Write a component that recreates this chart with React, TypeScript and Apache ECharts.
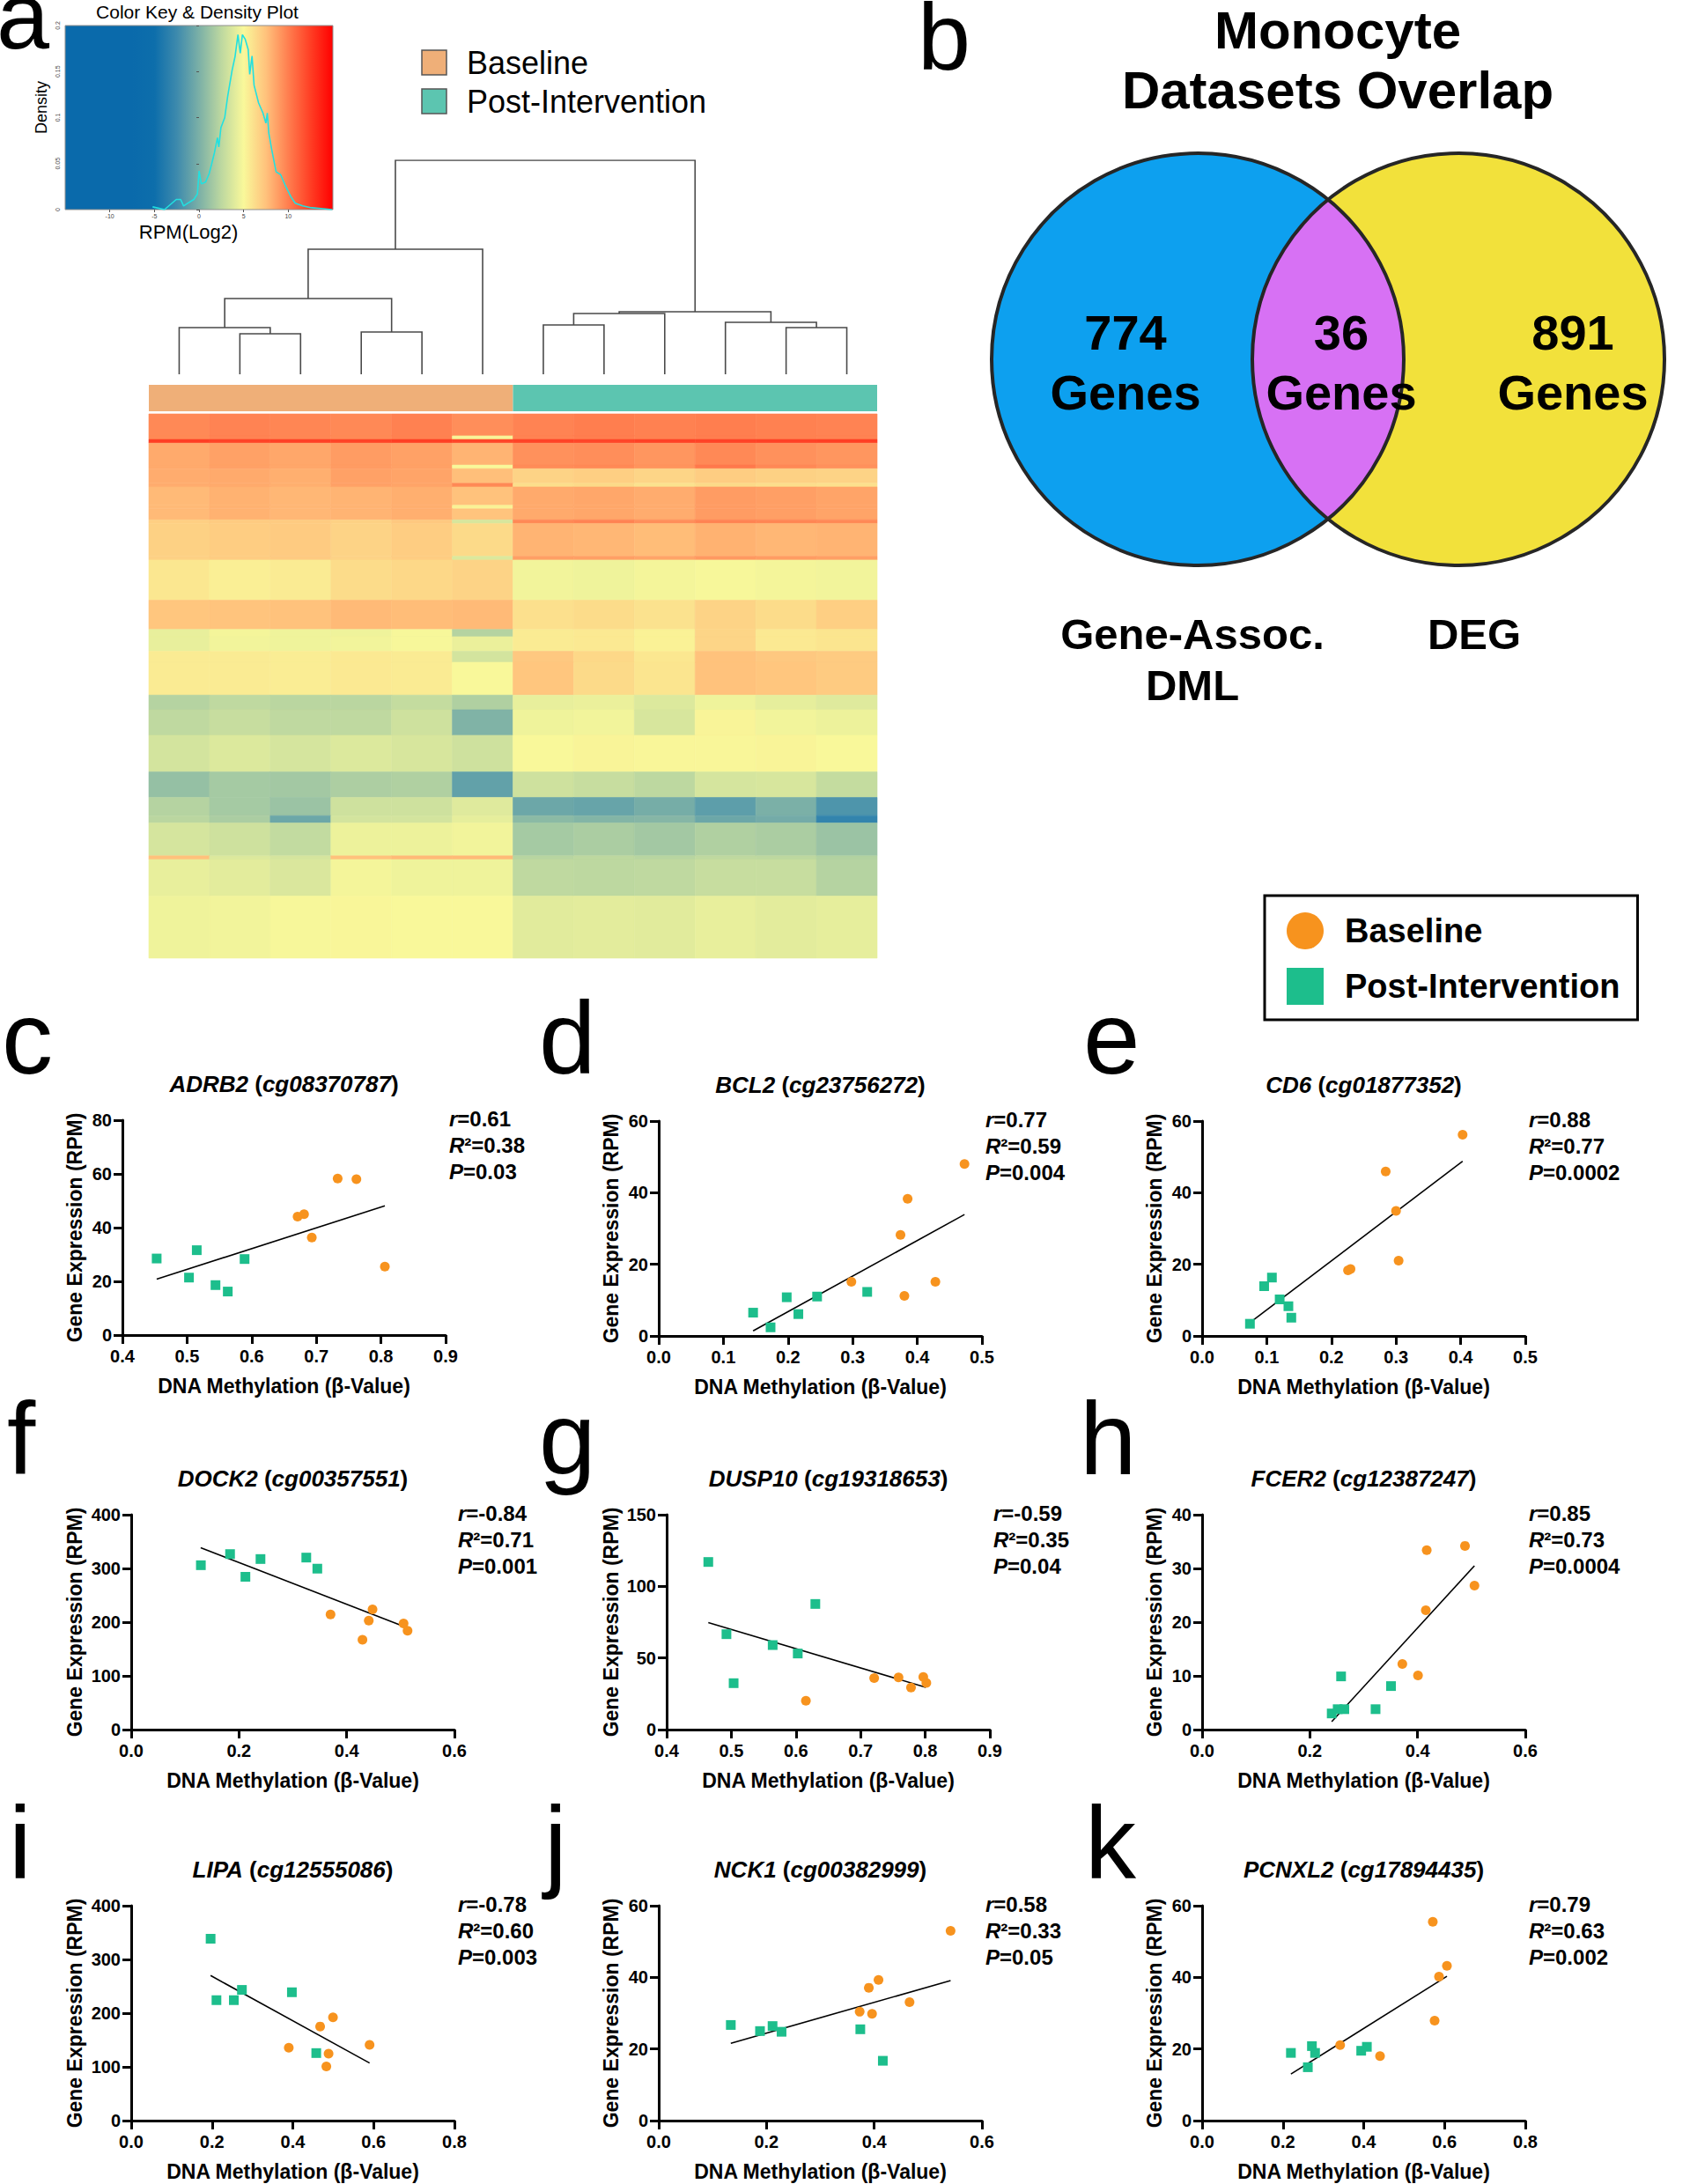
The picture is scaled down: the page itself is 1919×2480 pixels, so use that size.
import React, { useEffect, useRef } from "react";
import * as echarts from "echarts";

const FONT = "'Liberation Sans', Arial, Helvetica, sans-serif";
const ORANGE = "#F7931E";
const GREEN = "#1DBE8C";

// ---------------- Panel a: colour key & density ----------------
const densityX = [-5.2, -3.87, -2.55, -2.06, -1.73, -1.24, -0.58, -0.18, 0.01, 0.25, 0.74, 1.13, 1.4, 1.73, 2.06, 2.22, 2.45, 2.88, 3.21, 3.7, 4.03, 4.36, 4.62, 4.86, 5.18, 5.51, 5.68, 5.94, 6.17, 6.67, 7.16, 7.49, 7.65, 7.82, 8.15, 8.64, 9.14, 9.63, 10.29, 10.78, 11.6, 12.6, 13.9, 14.9];
const densityY = [0.003, 0, 0.011, 0.011, 0.004, 0.007, 0.011, 0.017, 0.042, 0.028, 0.03, 0.039, 0.049, 0.062, 0.078, 0.068, 0.089, 0.1, 0.123, 0.151, 0.166, 0.19, 0.17, 0.19, 0.185, 0.174, 0.147, 0.167, 0.135, 0.116, 0.105, 0.094, 0.105, 0.083, 0.065, 0.041, 0.038, 0.027, 0.014, 0.007, 0.004, 0.002, 0.001, 0];

// colour scale (evenly spaced from -15 to 15)
const heatColors = ["#0A6AAB", "#0A6AAB", "#0A6AAB", "#0A6AAB", "#0D6EAB", "#3D8AAD", "#7BB0A7", "#BDD8A0", "#F9F89A", "#FFC27C", "#FF7E4F", "#FF3E24", "#FF0000"];

// dendrogram (hclust style: negative = leaf, positive = merge)
const dendroMerges = [
  [-2, -3, 46], [-1, 1, 53], [-4, -5, 48], [2, 3, 86], [4, -6, 142],
  [-7, -8, 56], [6, -9, 69], [-11, -12, 53], [-10, 8, 59], [7, 9, 71], [5, 10, 243],
];

// column groups
const groupNames = ["Baseline", "Post-Intervention"];
const groupColors = ["#EFAF78", "#5CC5B0"];
const groupSpans = [[0, 6, 0], [6, 12, 1]];

// heatmap row bands: rows, 6 baseline values, 6 post values (log2 RPM)
const bandRows = [6, 1, 1, 6, 1, 4, 1, 5, 1, 3, 1, 9, 1, 11, 8, 2, 4, 3, 9, 4, 7, 10, 7, 5, 2, 9, 1, 10, 17];
const bandBaseline = [
  [9.6, 9.8, 9.7, 9.6, 9.9, 9.4], [9.6, 9.8, 9.7, 9.6, 9.9, 5.2], [12.5, 12.3, 12.4, 12.3, 12.5, 12.2],
  [8.4, 8.7, 8.5, 8.9, 8.7, 8.0], [8.4, 8.7, 8.5, 8.9, 8.7, 5.0], [8.3, 8.4, 8.2, 8.7, 8.6, 7.6],
  [8.3, 8.4, 8.2, 8.7, 8.6, 9.6], [7.8, 8.1, 7.9, 8.0, 8.2, 7.5], [7.8, 8.1, 7.9, 8.0, 8.2, 5.3],
  [7.8, 8.1, 7.9, 8.0, 8.2, 7.4], [6.9, 7.1, 7.1, 6.8, 7.2, 3.6], [6.8, 7.0, 7.1, 6.7, 7.0, 6.4],
  [6.8, 7.0, 7.1, 6.7, 7.0, 3.8], [5.8, 5.4, 5.6, 6.3, 6.5, 6.7], [7.3, 7.4, 7.5, 7.8, 7.7, 7.8],
  [4.3, 4.8, 4.6, 4.6, 4.9, 2.2], [4.3, 4.7, 4.6, 4.7, 4.9, 4.4], [5.6, 5.6, 5.5, 5.7, 5.6, 3.4],
  [5.6, 5.6, 5.5, 5.7, 5.6, 5.0], [2.2, 2.6, 2.4, 2.4, 2.8, 2.0], [2.6, 2.9, 2.6, 2.6, 3.2, 0.2],
  [3.4, 3.8, 3.5, 3.8, 3.6, 3.2], [1.0, 1.6, 1.5, 1.9, 2.0, -1.0], [2.2, 1.6, 1.2, 3.2, 3.2, 3.9],
  [2.4, 1.8, -0.6, 3.4, 3.4, 4.2], [3.5, 3.2, 2.7, 4.5, 4.5, 4.7], [7.5, 3.8, 3.5, 7.5, 7.8, 7.8],
  [4.3, 4.1, 3.7, 4.8, 4.6, 4.6], [4.6, 4.7, 4.9, 5.1, 5.0, 5.0],
];
const bandPost = [
  [9.8, 10, 9.9, 10, 9.9, 9.8], [9.8, 10, 9.9, 10, 9.9, 9.8], [12.3, 12.2, 12.4, 12.3, 12.4, 12.5],
  [9.3, 9.4, 9.1, 9.6, 9.3, 9.1], [9.5, 9.6, 9.2, 10.2, 9.6, 9.3], [6.7, 6.9, 6.6, 7.0, 6.8, 6.7],
  [6.2, 6.4, 6.0, 6.4, 6.2, 6.1], [8.4, 8.5, 8.3, 8.9, 8.8, 8.6], [8.4, 8.5, 8.3, 8.9, 8.8, 8.6],
  [8.4, 8.5, 8.3, 8.9, 8.8, 8.6], [9.6, 9.8, 9.4, 9.8, 9.7, 9.6], [8.0, 7.9, 7.7, 8.1, 7.9, 8.0],
  [8.8, 8.8, 8.6, 9.0, 8.9, 8.8], [4.7, 4.6, 4.8, 4.9, 4.8, 4.7], [6.1, 6.3, 6.0, 6.7, 6.3, 6.9],
  [5.6, 5.7, 5.3, 6.6, 5.7, 5.9], [5.6, 5.7, 5.3, 6.6, 5.7, 5.9], [7.2, 6.5, 5.8, 7.5, 7.2, 7.1],
  [7.3, 6.4, 5.9, 7.5, 7.3, 7.1], [4.3, 4.4, 3.8, 4.6, 4.2, 3.9], [4.6, 4.7, 3.6, 5.2, 4.7, 4.5],
  [5.0, 5.2, 5.1, 5.1, 5.2, 5.0], [3.2, 2.9, 2.5, 3.5, 3.6, 2.8], [-0.6, -0.8, -0.2, -1.2, 0.0, -1.8],
  [0.6, 0.3, 0.4, -0.6, -0.3, -3.0], [1.6, 1.8, 1.5, 2.0, 1.8, 1.2], [2.3, 2.5, 2.3, 2.6, 2.5, 2.1],
  [2.6, 2.5, 2.6, 2.9, 2.9, 2.2], [4.0, 4.1, 4.0, 4.3, 4.1, 4.2],
];

// ---------------- Panel b: Venn ----------------
const vennTitle = ["Monocyte", "Datasets Overlap"];
const vennCounts = ["774", "36", "891"];
const vennSetNames = ["Gene-Assoc.\nDML", "DEG"];

// ---------------- Panels c–k: scatter ----------------
const adrb2Baseline = [[0.671, 44.1], [0.681, 45.0], [0.693, 36.3], [0.733, 58.3], [0.762, 58.0], [0.806, 25.5]];
const adrb2Post = [[0.453, 28.5], [0.515, 31.6], [0.503, 21.4], [0.544, 18.6], [0.563, 16.2], [0.589, 28.3]];
const adrb2Fit = [[0.453, 20.8], [0.806, 48.1]];

const bcl2Baseline = [[0.298, 15.1], [0.374, 28.2], [0.385, 38.3], [0.38, 11.2], [0.428, 15.1], [0.473, 48.0]];
const bcl2Post = [[0.146, 6.5], [0.173, 2.4], [0.198, 10.8], [0.216, 6.1], [0.245, 11.0], [0.3225, 12.3]];
const bcl2Fit = [[0.146, 1.4], [0.473, 33.9]];

const cd6Baseline = [[0.2257, 18.3], [0.2296, 18.7], [0.284, 45.9], [0.3, 34.9], [0.304, 21.0], [0.403, 56.2]];
const cd6Post = [[0.074, 3.4], [0.096, 13.9], [0.108, 16.3], [0.12, 10.2], [0.1335, 8.3], [0.138, 5.1]];
const cd6Fit = [[0.078, 4.25], [0.403, 48.8]];

const dock2Baseline = [[0.37, 214.4], [0.4293, 167.2], [0.441, 203], [0.448, 223.6], [0.5056, 197.6], [0.513, 184]];
const dock2Post = [[0.1293, 306], [0.1835, 326.7], [0.212, 284.4], [0.24, 317.5], [0.325, 320.2], [0.3455, 299.6]];
const dock2Fit = [[0.129, 338.7], [0.5056, 192.1]];

const dusp10Baseline = [[0.6154, 20.2], [0.721, 36.0], [0.7587, 36.4], [0.778, 29.3], [0.797, 36.8], [0.8017, 32.6]];
const dusp10Post = [[0.4644, 117], [0.4925, 66.6], [0.5036, 32.4], [0.564, 59.0], [0.6028, 53.1], [0.63, 87.7]];
const dusp10Fit = [[0.4644, 74.7], [0.8008, 29.5]];

const fcer2Baseline = [[0.3717, 12.2], [0.4008, 10.1], [0.4153, 22.2], [0.417, 33.4], [0.488, 34.2], [0.5056, 26.8]];
const fcer2Post = [[0.2406, 3.0], [0.2517, 3.8], [0.258, 9.9], [0.264, 3.8], [0.322, 3.8], [0.3507, 8.1]];
const fcer2Fit = [[0.2406, 1.47], [0.5056, 30.5]];

const lipaBaseline = [[0.39, 135.5], [0.4676, 175.2], [0.483, 100.7], [0.4885, 124.6], [0.4994, 192.1], [0.59, 141]];
const lipaPost = [[0.1965, 338.5], [0.211, 224.2], [0.254, 224.2], [0.274, 243.3], [0.3977, 238.9], [0.458, 125.7]];
const lipaFit = [[0.1965, 270], [0.59, 107.2]];

const nck1Baseline = [[0.373, 30.4], [0.39, 37.1], [0.396, 29.8], [0.408, 39.3], [0.4656, 33.1], [0.5418, 53.0]];
const nck1Post = [[0.1338, 26.7], [0.188, 25.0], [0.2113, 26.4], [0.228, 24.8], [0.3742, 25.5], [0.416, 16.7]];
const nck1Fit = [[0.1338, 21.6], [0.5418, 39.1]];

const pcnxl2Baseline = [[0.3417, 21.1], [0.4404, 18.0], [0.571, 55.5], [0.5755, 27.9], [0.5864, 40.2], [0.606, 43.2]];
const pcnxl2Post = [[0.2198, 18.9], [0.2617, 14.9], [0.2718, 20.8], [0.2796, 18.9], [0.3938, 19.5], [0.4078, 20.6]];
const pcnxl2Fit = [[0.2198, 13.0], [0.606, 40.3]];

const panelLetters = ["c", "d", "e", "f", "g", "h", "i", "j", "k"];
const geneNames = ["ADRB2", "BCL2", "CD6", "DOCK2", "DUSP10", "FCER2", "LIPA", "NCK1", "PCNXL2"];
const probeIds = ["cg08370787", "cg23756272", "cg01877352", "cg00357551", "cg19318653", "cg12387247", "cg12555086", "cg00382999", "cg17894435"];
const statR = ["0.61", "0.77", "0.88", "-0.84", "-0.59", "0.85", "-0.78", "0.58", "0.79"];
const statR2 = ["0.38", "0.59", "0.77", "0.71", "0.35", "0.73", "0.60", "0.33", "0.63"];
const statP = ["0.03", "0.004", "0.0002", "0.001", "0.04", "0.0004", "0.003", "0.05", "0.002"];
const xRanges = [[0.4, 0.9, 0.1], [0, 0.5, 0.1], [0, 0.5, 0.1], [0, 0.6, 0.2], [0.4, 0.9, 0.1], [0, 0.6, 0.2], [0, 0.8, 0.2], [0, 0.6, 0.2], [0, 0.8, 0.2]];
const yRanges = [[0, 80, 20], [0, 60, 20], [0, 60, 20], [0, 400, 100], [0, 150, 50], [0, 40, 10], [0, 400, 100], [0, 60, 20], [0, 60, 20]];
const baselineSets = [adrb2Baseline, bcl2Baseline, cd6Baseline, dock2Baseline, dusp10Baseline, fcer2Baseline, lipaBaseline, nck1Baseline, pcnxl2Baseline];
const postSets = [adrb2Post, bcl2Post, cd6Post, dock2Post, dusp10Post, fcer2Post, lipaPost, nck1Post, pcnxl2Post];
const fitSets = [adrb2Fit, bcl2Fit, cd6Fit, dock2Fit, dusp10Fit, fcer2Fit, lipaFit, nck1Fit, pcnxl2Fit];

// ---------------- layout (positions only) ----------------
const PANEL_LAYOUT = [
  { left: 139, top: 1272, yGap: 43, lx: 2, ly: 1219 },
  { left: 748, top: 1273, yGap: 43, lx: 612, ly: 1219 },
  { left: 1365, top: 1273, yGap: 43, lx: 1230, ly: 1219 },
  { left: 149, top: 1720, yGap: 53, lx: 8, ly: 1674 },
  { left: 757, top: 1720, yGap: 52, lx: 612, ly: 1674 },
  { left: 1365, top: 1720, yGap: 43, lx: 1226, ly: 1674 },
  { left: 149, top: 2164, yGap: 53, lx: 10, ly: 2133 },
  { left: 748, top: 2164, yGap: 43, lx: 618, ly: 2133 },
  { left: 1365, top: 2164, yGap: 43, lx: 1232, ly: 2133 },
];
const PW = 367;
const PH = 244;
const LETTER = 116;

function txt(x: number, y: number, text: string, size: number, opts: any = {}) {
  return {
    type: "text",
    x,
    y,
    silent: true,
    style: {
      text,
      fill: opts.fill || "#000",
      fontSize: size,
      fontWeight: opts.weight || "normal",
      fontStyle: opts.style || "normal",
      fontFamily: FONT,
      align: opts.align || "center",
      verticalAlign: opts.valign || "middle",
      lineHeight: opts.lineHeight,
      rich: opts.rich,
    },
  };
}

function buildOption() {
  const grid: any[] = [];
  const xAxis: any[] = [];
  const yAxis: any[] = [];
  const series: any[] = [];
  const els: any[] = [];
  const hiddenAxis = { axisLine: { show: false }, axisTick: { show: false }, axisLabel: { show: false }, splitLine: { show: false } };

  // ---- 0: density / colour key ----
  grid.push({
    left: 74, top: 29, width: 304, height: 209, show: true,
    backgroundColor: {
      type: "linear", x: 0, y: 0, x2: 1, y2: 0,
      colorStops: heatColors.map((c, i) => ({ offset: i / (heatColors.length - 1), color: c })),
    },
    borderColor: "#8f8f8f", borderWidth: 1,
  });
  xAxis.push({
    gridIndex: 0, type: "value", min: -15, max: 15, interval: 5,
    axisLine: { show: false }, splitLine: { show: false },
    axisTick: { show: true, length: 3, lineStyle: { color: "#555", width: 1 } },
    axisLabel: { fontSize: 7, margin: 4, color: "#444", showMinLabel: false, showMaxLabel: false, fontFamily: FONT },
  });
  yAxis.push({
    gridIndex: 0, type: "value", min: 0, max: 0.2, interval: 0.05,
    axisLine: { show: false }, splitLine: { show: false },
    axisTick: { show: true, length: 3, lineStyle: { color: "#555", width: 1 } },
    axisLabel: { fontSize: 7, margin: 5, rotate: 90, color: "#444", fontFamily: FONT, formatter: (v: number) => (v === 0 ? "0" : String(+v.toFixed(2))) },
  });
  series.push({
    type: "line", xAxisIndex: 0, yAxisIndex: 0, showSymbol: false, symbol: "none", silent: true,
    data: densityX.map((x, i) => [x, densityY[i]]),
    lineStyle: { color: "#22E0E0", width: 1.6 },
  });

  // ---- 1: dendrogram ----
  grid.push({ left: 169, top: 182, width: 827, height: 243 });
  xAxis.push({ gridIndex: 1, type: "value", min: 0, max: 12, ...hiddenAxis });
  yAxis.push({ gridIndex: 1, type: "value", min: 0, max: 243, ...hiddenAxis });
  const mPos: number[] = [];
  const mH: number[] = [];
  const node = (id: number) => (id < 0 ? [(-id) - 0.5, 0] : [mPos[id - 1], mH[id - 1]]);
  const dLines: any[] = [];
  dendroMerges.forEach((m) => {
    const a = node(m[0]);
    const b = node(m[1]);
    const h = m[2];
    dLines.push({ coords: [[a[0], a[1]], [a[0], h], [b[0], h], [b[0], b[1]]] });
    mPos.push((a[0] + b[0]) / 2);
    mH.push(h);
  });
  series.push({
    type: "lines", coordinateSystem: "cartesian2d", xAxisIndex: 1, yAxisIndex: 1, polyline: true, silent: true,
    data: dLines, lineStyle: { color: "#4a4a4a", width: 1.6, opacity: 1 },
  });

  // ---- 2: colour side bar ----
  grid.push({ left: 169, top: 437, width: 827, height: 30 });
  xAxis.push({ gridIndex: 2, type: "value", min: 0, max: 12, ...hiddenAxis });
  yAxis.push({ gridIndex: 2, type: "value", min: 0, max: 1, ...hiddenAxis });
  series.push({
    type: "custom", xAxisIndex: 2, yAxisIndex: 2, silent: true, data: groupSpans,
    encode: { x: [0, 1] },
    renderItem: (params: any, api: any) => {
      const a = api.coord([api.value(0), 1]);
      const b = api.coord([api.value(1), 0]);
      const c = groupColors[api.value(2)];
      return { type: "rect", shape: { x: a[0], y: a[1], width: b[0] - a[0], height: b[1] - a[1] }, style: { fill: c } };
    },
  });

  // ---- 3: heatmap ----
  grid.push({ left: 169, top: 470, width: 827, height: 618 });
  const totalRows = bandRows.reduce((s, v) => s + v, 0);
  xAxis.push({ gridIndex: 3, type: "value", min: 0, max: 12, ...hiddenAxis });
  yAxis.push({ gridIndex: 3, type: "value", min: 0, max: totalRows, inverse: true, ...hiddenAxis });
  const heatData: number[][] = [];
  let r0 = 0;
  bandRows.forEach((n, bi) => {
    const vals = bandBaseline[bi].concat(bandPost[bi]);
    vals.forEach((v, ci) => heatData.push([ci, r0, r0 + n, v]));
    r0 += n;
  });
  series.push({
    type: "custom", xAxisIndex: 3, yAxisIndex: 3, silent: true, data: heatData,
    encode: { x: 0, y: [1, 2] },
    renderItem: (params: any, api: any) => {
      const c = api.value(0);
      const a = api.coord([c, api.value(1)]);
      const b = api.coord([c + 1, api.value(2)]);
      const col = api.visual("color");
      return {
        type: "rect",
        shape: { x: a[0], y: Math.min(a[1], b[1]), width: b[0] - a[0], height: Math.abs(b[1] - a[1]) },
        style: { fill: col, stroke: col, lineWidth: 0.6 },
      };
    },
  });

  // ---- scatter panels ----
  PANEL_LAYOUT.forEach((L, i) => {
    const gi = grid.length;
    grid.push({ left: L.left, top: L.top, width: PW, height: PH });
    const xr = xRanges[i];
    const yr = yRanges[i];
    xAxis.push({
      gridIndex: gi, type: "value", min: xr[0], max: xr[1], interval: xr[2],
      name: "DNA Methylation (\u03B2-Value)", nameLocation: "middle", nameGap: 46,
      nameTextStyle: { fontSize: 23, fontWeight: "bold", fontFamily: FONT, color: "#000" },
      axisLine: { show: true, onZero: false, lineStyle: { color: "#000", width: 3 } },
      axisTick: { show: true, length: 10, lineStyle: { color: "#000", width: 3 } },
      axisLabel: { fontSize: 20, fontWeight: "bold", fontFamily: FONT, color: "#000", margin: 14, showMinLabel: true, showMaxLabel: true, formatter: (v: number) => v.toFixed(1) },
      splitLine: { show: false },
    });
    yAxis.push({
      gridIndex: gi, type: "value", min: yr[0], max: yr[1], interval: yr[2],
      name: "Gene Expression (RPM)", nameLocation: "middle", nameGap: L.yGap,
      nameTextStyle: { fontSize: 23, fontWeight: "bold", fontFamily: FONT, color: "#000" },
      axisLine: { show: true, onZero: false, lineStyle: { color: "#000", width: 3 } },
      axisTick: { show: true, length: 10, lineStyle: { color: "#000", width: 3 } },
      axisLabel: { fontSize: 20, fontWeight: "bold", fontFamily: FONT, color: "#000", margin: 12, showMinLabel: true, showMaxLabel: true, formatter: (v: number) => String(Math.round(v)) },
      splitLine: { show: false },
    });
    series.push({
      type: "line", xAxisIndex: gi, yAxisIndex: gi, data: fitSets[i], symbol: "none", silent: true, z: 2,
      lineStyle: { color: "#000", width: 1.6 },
    });
    series.push({
      name: "Post-Intervention", type: "scatter", xAxisIndex: gi, yAxisIndex: gi, data: postSets[i],
      symbol: "rect", symbolSize: 11, itemStyle: { color: GREEN, opacity: 1 }, z: 3,
    });
    series.push({
      name: "Baseline", type: "scatter", xAxisIndex: gi, yAxisIndex: gi, data: baselineSets[i],
      symbol: "circle", symbolSize: 11, itemStyle: { color: ORANGE, opacity: 1 }, z: 3,
    });

    // title
    els.push({
      type: "text", x: L.left + PW / 2, y: L.top - 41, silent: true,
      style: {
        text: `{i|${geneNames[i]}}{n| (}{i|${probeIds[i]}}{n|)}`,
        align: "center", verticalAlign: "middle",
        rich: {
          i: { fontSize: 26, fontWeight: "bold", fontStyle: "italic", fontFamily: FONT, fill: "#000", color: "#000" },
          n: { fontSize: 26, fontWeight: "bold", fontFamily: FONT, fill: "#000", color: "#000" },
        },
      },
    });
    // stats
    const statRich = {
      i: { fontSize: 24, fontWeight: "bold", fontStyle: "italic", fontFamily: FONT, fill: "#000", color: "#000", lineHeight: 30 },
      b: { fontSize: 24, fontWeight: "bold", fontFamily: FONT, fill: "#000", color: "#000", lineHeight: 30 },
    };
    els.push({
      type: "text", x: L.left + PW + 4, y: L.top - 17, silent: true,
      style: {
        text: `{i|r}{b|=${statR[i]}}\n{i|R}{b|\u00B2=${statR2[i]}}\n{i|P}{b|=${statP[i]}}`,
        align: "left", verticalAlign: "top", lineHeight: 30, rich: statRich,
      },
    });
    // panel letter
    els.push(txt(L.lx, L.ly - 0.3465 * LETTER, panelLetters[i], LETTER, { align: "left" }));
  });

  // ---- panel a texts ----
  els.push(txt(-4, 55 - 0.3465 * 108, "a", 108, { align: "left" }));
  els.push(txt(224, 13, "Color Key & Density Plot", 21));
  els.push({ ...txt(47, 122, "Density", 18), rotation: Math.PI / 2 });
  els.push(txt(214, 263, "RPM(Log2)", 22));
  groupNames.forEach((g, k) => {
    els.push({
      type: "rect", silent: true,
      shape: { x: 479, y: 57 + k * 44, width: 28, height: 28 },
      style: { fill: groupColors[k], stroke: "#555", lineWidth: 1.5 },
    });
    els.push(txt(530, 71 + k * 44, g, 36, { align: "left" }));
  });

  // ---- panel b: Venn ----
  const C1 = [1360, 408];
  const C2 = [1656, 408];
  const R = 234;
  const midX = (C1[0] + C2[0]) / 2;
  const half = Math.sqrt(R * R - Math.pow((C2[0] - C1[0]) / 2, 2));
  const top = C1[1] - half;
  const bot = C1[1] + half;
  const lensD = `M ${midX} ${top} A ${R} ${R} 0 0 1 ${midX} ${bot} A ${R} ${R} 0 0 1 ${midX} ${top} Z`;
  echarts.graphic.registerShape("vennLens", echarts.graphic.extendPath(lensD, {}) as any);
  els.push({ type: "circle", silent: true, shape: { cx: C1[0], cy: C1[1], r: R }, style: { fill: "#0DA0EF" } });
  els.push({ type: "circle", silent: true, shape: { cx: C2[0], cy: C2[1], r: R }, style: { fill: "#F2E13B" } });
  els.push({ type: "vennLens", silent: true, x: 0, y: 0, style: { fill: "#D771F4" } });
  els.push({ type: "circle", silent: true, shape: { cx: C1[0], cy: C1[1], r: R }, style: { fill: "none", stroke: "#262626", lineWidth: 4 } });
  els.push({ type: "circle", silent: true, shape: { cx: C2[0], cy: C2[1], r: R }, style: { fill: "none", stroke: "#262626", lineWidth: 4 } });
  els.push(txt(1042, 79 - 0.3465 * 108, "b", 108, { align: "left" }));
  els.push(txt(1519, 34, vennTitle[0], 60, { weight: "bold" }));
  els.push(txt(1519, 102, vennTitle[1], 60, { weight: "bold" }));
  const cx = [1278, 1523, 1786];
  vennCounts.forEach((c, k) => {
    els.push(txt(cx[k], 377, c, 56, { weight: "bold" }));
    els.push(txt(cx[k], 445, "Genes", 56, { weight: "bold" }));
  });
  els.push(txt(1354, 749, vennSetNames[0], 49, { weight: "bold", lineHeight: 58 }));
  els.push(txt(1674, 720, vennSetNames[1], 49, { weight: "bold" }));

  return {
    animation: false,
    backgroundColor: "#ffffff",
    textStyle: { fontFamily: FONT },
    grid,
    xAxis,
    yAxis,
    series,
    visualMap: [
      { type: "continuous", seriesIndex: 3, dimension: 3, min: -15, max: 15, show: false, inRange: { color: heatColors } },
    ],
    legend: {
      show: true, orient: "vertical", left: 1436, top: 1017,
      itemWidth: 42, itemHeight: 42, itemGap: 21,
      padding: [19, 20, 17, 25],
      borderColor: "#000", borderWidth: 3,
      selectedMode: false,
      textStyle: { fontSize: 38, fontWeight: "bold", fontFamily: FONT, color: "#000", padding: [0, 0, 0, 19] },
      data: [
        { name: "Baseline", icon: "circle" },
        { name: "Post-Intervention", icon: "rect" },
      ],
    },
    graphic: { elements: els },
  };
}

export default function App() {
  const ref = useRef<HTMLDivElement>(null);
  useEffect(() => {
    if (!ref.current) return;
    const chart = echarts.init(ref.current, undefined, { renderer: "svg" });
    chart.setOption(buildOption() as any);
    return () => chart.dispose();
  }, []);
  return (
    <div
      ref={ref}
      style={{ position: "absolute", left: 0, top: 0, width: 1919, height: 2480, background: "#fff" }}
    />
  );
}
